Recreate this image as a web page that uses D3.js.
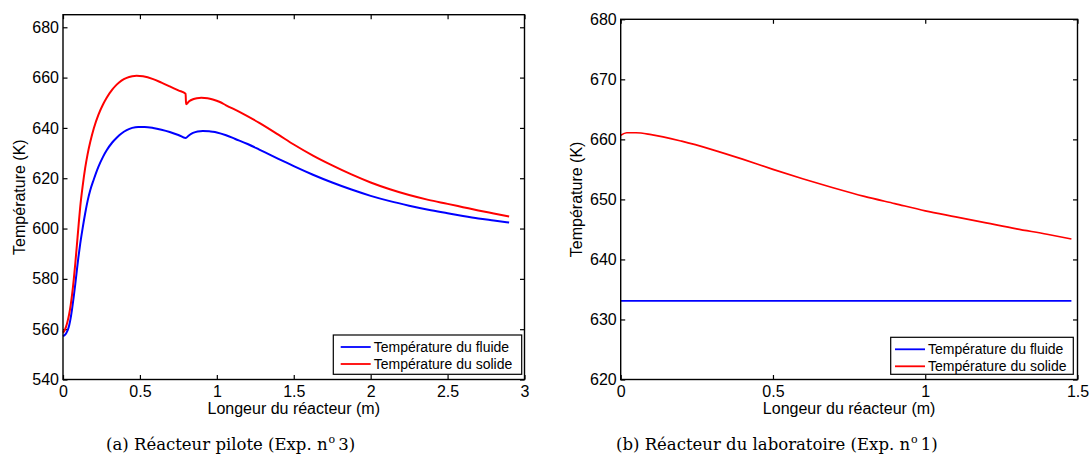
<!DOCTYPE html>
<html><head><meta charset="utf-8">
<script src="https://cdn.jsdelivr.net/npm/d3@7"></script>
<style>
body{margin:0;background:#fff;}
svg{display:block;}
</style></head>
<body>
<svg id="c" width="1090" height="463"></svg>
<script>
// ---- Data (a) Réacteur pilote ----
const pilotX = [0,0.01,0.02,0.03,0.04,0.05,0.06,0.07,0.08,0.09,0.1,0.112,0.128,0.144,0.16,0.177,0.2,0.23,0.26,0.284,0.32,0.349,0.38,0.414,0.45,0.489,0.53,0.586,0.64,0.694,0.75,0.797,0.82,0.845,0.875,0.909,0.95,0.974,1.0,1.06,1.12,1.2,1.276,1.35,1.425,1.5,1.625,1.75,1.875,2,2.125,2.25,2.375,2.5,2.6,2.7,2.8,2.9];
const pilotFluide = [557.2,557.6,558.3,559.5,561.5,564.5,568.5,573,578,583.4,588.5,594,600.3,606,611,615.2,619.5,624.5,628.5,631.1,634.2,636.1,637.8,639.1,640,640.4,640.4,640,639.3,638.4,637.2,636,637.1,638,638.6,638.8,638.7,638.5,638.2,637.1,635.6,633.6,631.4,629.2,627,624.8,621.4,618.3,615.5,613,610.9,609.1,607.5,606.1,605,604,603.2,602.4];
const pilotSolideX = [0,0.01,0.02,0.03,0.04,0.05,0.06,0.07,0.08,0.09,0.1,0.112,0.128,0.144,0.16,0.177,0.2,0.23,0.26,0.284,0.32,0.349,0.38,0.414,0.45,0.478,0.52,0.586,0.64,0.694,0.75,0.797,0.8,0.82,0.845,0.87,0.899,0.94,0.974,1.02,1.06,1.15,1.276,1.4,1.5,1.625,1.75,1.875,2,2.125,2.25,2.375,2.5,2.6,2.7,2.8,2.9];
const pilotSolide = [558.6,559.5,561,563.2,566,569.6,574.2,579.8,586.2,593.2,600.4,608.6,617,624,629.6,634.4,639.8,645.2,649.3,652,655.2,657.2,658.8,659.9,660.5,660.7,660.5,659.4,658,656.5,654.9,653.6,649.4,650.6,651.4,651.8,652,651.8,651.3,650.3,649,646.3,642,637.3,633.4,629,625.1,621.5,618.3,615.6,613.3,611.4,609.8,608.5,607.2,606,604.8];
const pilotXTicks = [0,0.5,1,1.5,2,2.5,3];
const pilotYTicks = [540,560,580,600,620,640,660,680];

// ---- Data (b) Réacteur du laboratoire ----
const laboX = [0,0.02,0.05,0.1,0.2,0.3,0.4,0.5,0.6,0.7,0.8,0.9,1.0,1.1,1.2,1.3,1.4,1.48];
const laboFluide = [633.1,633.1,633.1,633.1,633.1,633.1,633.1,633.1,633.1,633.1,633.1,633.1,633.1,633.1,633.1,633.1,633.1,633.1];
const laboSolide = [660.7,661.1,661.1,660.8,659.7,658.3,656.7,655.0,653.4,651.9,650.5,649.3,648.1,647.1,646.1,645.1,644.2,643.4];
const laboXTicks = [0,0.5,1,1.5];
const laboYTicks = [620,630,640,650,660,670,680];

const legendLabels = ["Température du fluide","Température du solide"];
const colors = ["#0000ff","#ff0000"];

const SANS = "'Liberation Sans',Arial,Helvetica,sans-serif";
const SERIF = "'DejaVu Serif','Liberation Serif',serif";
const svg = d3.select("#c");

function panel(cfg){
  const g = svg.append("g").attr("transform",`translate(${cfg.left},${cfg.top})`);
  const w = cfg.right-cfg.left, h = cfg.bottom-cfg.top;
  const x = d3.scaleLinear().domain(cfg.xDomain).range([0,w]);
  const y = d3.scaleLinear().domain(cfg.yDomain).range([h,0]);
  const fmt = d => String(d);
  const tl = 4.5;
  const ax = [
    g.append("g").attr("transform",`translate(0,${h})`).call(d3.axisBottom(x).tickValues(cfg.xTicks).tickFormat(fmt).tickSizeInner(-tl).tickSizeOuter(0).tickPadding(6)),
    g.append("g").call(d3.axisTop(x).tickValues(cfg.xTicks).tickFormat("").tickSizeInner(-tl).tickSizeOuter(0)),
    g.append("g").call(d3.axisLeft(y).tickValues(cfg.yTicks).tickFormat(fmt).tickSizeInner(-tl).tickSizeOuter(0).tickPadding(4)),
    g.append("g").attr("transform",`translate(${w},0)`).call(d3.axisRight(y).tickValues(cfg.yTicks).tickFormat("").tickSizeInner(-tl).tickSizeOuter(0))
  ];
  ax.forEach(a=>{
    a.attr("font-family",null).attr("font-size",null);
    a.select(".domain").remove();
    a.selectAll(".tick line").attr("stroke","#000").attr("stroke-width",1.2);
    a.selectAll(".tick text").style("font-size","16px").style("font-family",SANS).attr("fill","#000");
  });
  const line = d3.line().x(d=>x(d[0])).y(d=>y(d[1])).curve(d3.curveMonotoneX);
  cfg.series.forEach((s,i)=>{
    g.append("path").datum(s.x.map((v,k)=>[v,s.y[k]]))
      .attr("fill","none").attr("stroke",colors[i]).attr("stroke-width",cfg.lw)
      .attr("stroke-linejoin","round").attr("d",line);
  });
  g.append("rect").attr("x",0).attr("y",0).attr("width",w).attr("height",h)
    .attr("fill","none").attr("stroke","#000").attr("stroke-width",1.4);
  svg.append("text").attr("x",(cfg.left+cfg.right)/2).attr("y",414)
    .attr("text-anchor","middle").style("font-family",SANS).style("font-size","16px").text("Longeur du réacteur (m)");
  svg.append("text").attr("transform",`translate(${cfg.ylabX},${(cfg.top+cfg.bottom)/2}) rotate(-90)`)
    .attr("text-anchor","middle").style("font-family",SANS).style("font-size","16px").text("Température (K)");
  const lg = svg.append("g").attr("transform",`translate(${cfg.leg[0]},${cfg.leg[1]})`);
  lg.append("rect").attr("width",cfg.leg[2]).attr("height",cfg.leg[3])
    .attr("fill","#fff").attr("stroke","#000").attr("stroke-width",1.2);
  legendLabels.forEach((t,i)=>{
    const cy = 12 + i*17;
    lg.append("line").attr("x1",cfg.legLine[0]).attr("x2",cfg.legLine[1]).attr("y1",cy).attr("y2",cy)
      .attr("stroke",colors[i]).attr("stroke-width",1.8);
    lg.append("text").attr("x",cfg.legLine[1]+3).attr("y",cy+5).style("font-family",SANS).style("font-size","14px").text(t);
  });
  const cap = svg.append("text").attr("x",cfg.capX).attr("y",450)
    .style("font-family",SERIF).style("font-size","16.5px");
  cap.append("tspan").text(cfg.cap[0]);
  cap.append("tspan").style("font-size","11px").attr("dy",-7).attr("dx",1).text("o");
  cap.append("tspan").attr("dy",7).attr("dx",3).text(cfg.cap[1]);
}

panel({left:63,right:524.5,top:14.7,bottom:379.5,xDomain:[0,3],yDomain:[540,685],
  xTicks:pilotXTicks,yTicks:pilotYTicks,lw:2,
  series:[{x:pilotX,y:pilotFluide},{x:pilotSolideX,y:pilotSolide}],
  ylabX:25,leg:[333.3,335,188.4,39.3],legLine:[7.4,37.4],
  capX:106,cap:["(a) Réacteur pilote (Exp. n","3)"]});

panel({left:620.7,right:1077.5,top:19.3,bottom:379.5,xDomain:[0,1.5],yDomain:[620,680],
  xTicks:laboXTicks,yTicks:laboYTicks,lw:1.7,
  series:[{x:laboX,y:laboFluide},{x:laboX,y:laboSolide}],
  ylabX:582,leg:[890.7,337.3,182.6,37],legLine:[4.3,34.3],
  capX:616,cap:["(b) Réacteur du laboratoire (Exp. n","1)"]});
</script>
</body></html>
